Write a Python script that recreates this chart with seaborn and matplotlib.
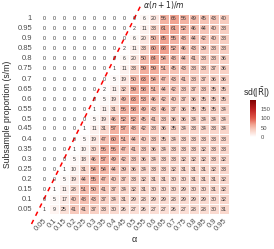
import numpy as np
import pandas as pd
import matplotlib
matplotlib.use("Agg")
import matplotlib.pyplot as plt
import seaborn as sns
from matplotlib.colors import LinearSegmentedColormap

# axis categories
alphas = ['0.05', '0.1', '0.15', '0.2', '0.25', '0.3', '0.35', '0.4', '0.45', '0.5',
          '0.55', '0.6', '0.65', '0.7', '0.75', '0.8', '0.85', '0.9', '0.95']
proportions = ['1', '0.95', '0.9', '0.85', '0.8', '0.75', '0.7', '0.65', '0.6', '0.55',
               '0.5', '0.45', '0.4', '0.35', '0.3', '0.25', '0.2', '0.15', '0.1', '0.05']

# sd(|R|), one row per subsample proportion (top to bottom)
sd_abs_r = [
    [0, 0, 0, 0, 0, 0, 0, 0, 0, 0, 6, 20, 56, 66, 56, 49, 45, 43, 40],
    [0, 0, 0, 0, 0, 0, 0, 0, 0, 2, 11, 33, 61, 61, 52, 46, 44, 40, 38],
    [0, 0, 0, 0, 0, 0, 0, 0, 0, 6, 20, 50, 65, 55, 48, 44, 42, 40, 38],
    [0, 0, 0, 0, 0, 0, 0, 0, 2, 11, 33, 60, 68, 52, 46, 43, 39, 38, 38],
    [0, 0, 0, 0, 0, 0, 0, 0, 6, 20, 50, 64, 54, 48, 44, 41, 38, 38, 36],
    [0, 0, 0, 0, 0, 0, 0, 1, 11, 33, 59, 59, 51, 45, 43, 38, 38, 37, 36],
    [0, 0, 0, 0, 0, 0, 0, 5, 19, 50, 63, 54, 47, 43, 41, 38, 37, 36, 36],
    [0, 0, 0, 0, 0, 0, 2, 11, 32, 59, 58, 51, 44, 42, 38, 37, 38, 35, 35],
    [0, 0, 0, 0, 0, 0, 5, 19, 49, 63, 53, 46, 42, 40, 37, 36, 35, 35, 35],
    [0, 0, 0, 0, 0, 1, 11, 31, 56, 58, 49, 43, 46, 37, 36, 35, 35, 35, 34],
    [0, 0, 0, 0, 0, 5, 19, 46, 52, 52, 45, 41, 38, 36, 36, 34, 34, 34, 34],
    [0, 0, 0, 0, 1, 11, 31, 57, 57, 48, 42, 38, 36, 35, 34, 33, 34, 33, 34],
    [0, 0, 0, 0, 5, 19, 47, 60, 51, 44, 40, 38, 35, 34, 33, 33, 33, 33, 33],
    [0, 0, 0, 1, 10, 30, 56, 56, 47, 41, 38, 36, 34, 33, 33, 33, 32, 33, 33],
    [0, 0, 0, 5, 18, 46, 57, 49, 42, 38, 36, 34, 33, 33, 32, 32, 32, 33, 32],
    [0, 0, 1, 10, 31, 54, 54, 44, 39, 36, 34, 33, 33, 32, 31, 31, 31, 32, 33],
    [0, 0, 5, 19, 44, 55, 47, 40, 37, 33, 32, 31, 31, 30, 30, 31, 31, 31, 32],
    [0, 1, 11, 28, 51, 50, 41, 37, 34, 32, 31, 30, 30, 30, 29, 30, 30, 31, 32],
    [0, 5, 17, 40, 48, 43, 37, 34, 31, 29, 28, 29, 29, 28, 29, 29, 29, 30, 32],
    [1, 9, 25, 41, 41, 37, 33, 30, 26, 27, 26, 27, 27, 26, 27, 28, 28, 30, 31],
]

fill_max = 198
colorbar_ticks = [0, 50, 100, 150]

# reference line s/m = alpha (n+1)/m
line_slope = 2.0
line_alpha_span = [-0.0125, 0.535]

df = pd.DataFrame(sd_abs_r, index=proportions, columns=alphas)

sns.set_style("white")
plt.rcParams['font.family'] = ['Liberation Sans', 'DejaVu Sans']

fig = plt.figure(figsize=(2.74, 2.49), dpi=100)
ax = fig.add_axes([39 / 274, 1 - 214 / 249, 190 / 274, 200 / 249])
cax = fig.add_axes([250 / 274, 1 - 137 / 249, 5.5 / 274, 37 / 249])

reds = LinearSegmentedColormap.from_list(
    'sd_reds', [(0.0, '#FFFFFF'), (0.18, '#F9D2C6'), (0.33, '#F2A593'),
                (0.5, '#E25A4B'), (0.75, '#BD1E1E'), (1.0, '#7F0000')])

sns.heatmap(df, ax=ax, cbar_ax=cax, cmap=reds, vmin=0, vmax=fill_max,
            annot=True, fmt='d', annot_kws={'fontsize': 3.8, 'color': '#333333'},
            linewidths=0.4, linecolor='white',
            xticklabels=alphas, yticklabels=proportions)

# dashed reference line
a = np.array(line_alpha_span)
s = line_slope * a
xs = a / 0.05 - 0.5
ys = 20.5 - s / 0.05
ax.plot(xs, ys, color='red', lw=1.1, ls=(0, (3, 3)), clip_on=False)
ax.text(xs[1] + 0.2, ys[1], r'$\alpha(n+1)/m$', fontsize=5.5,
        ha='left', va='center', color='#222222')

ax.tick_params(axis='x', length=0, pad=2)
ax.tick_params(axis='y', length=0, pad=5)
plt.setp(ax.get_xticklabels(), rotation=45, ha='right', rotation_mode='anchor',
         fontsize=5.5, color='#4d4d4d')
plt.setp(ax.get_yticklabels(), rotation=0, fontsize=5.5, color='#4d4d4d')
ax.set_xlabel('α', fontsize=6.5, labelpad=2)
ax.set_ylabel('Subsample proportion (s/m)', fontsize=6.2, labelpad=4)

cax.set_yticks(colorbar_ticks)
cax.tick_params(labelsize=4.2, length=1.5, color='white', labelcolor='#4d4d4d', pad=2)
for spine in cax.spines.values():
    spine.set_visible(False)
fig.text(243 / 274, 1 - 93 / 249, r'sd(|$\bar{\mathrm{R}}$|)', fontsize=6.2,
         ha='left', va='center')

fig.savefig('out.png', dpi=100)
